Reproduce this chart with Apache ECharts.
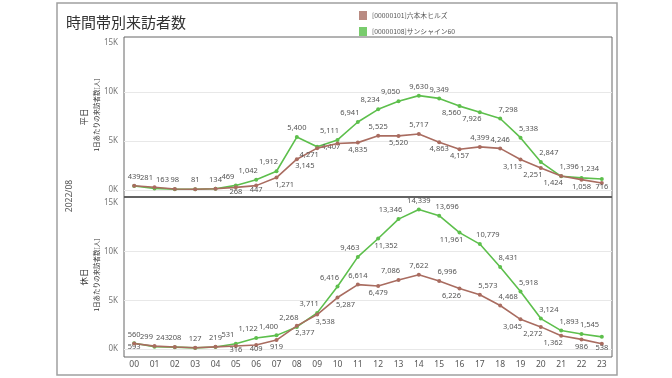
<!DOCTYPE html>
<html><head><meta charset="utf-8">
<script src="https://cdn.jsdelivr.net/npm/echarts@6/dist/echarts.min.js"></script>
<style>html,body{margin:0;padding:0;background:#fff}#c{width:672px;height:378px}</style>
</head><body><div id="c"></div>
<script>
const hours = ['00','01','02','03','04','05','06','07','08','09','10','11','12','13','14','15','16','17','18','19','20','21','22','23'];
const seriesNames = ['[00000101]六本木ヒルズ', '[00000108]サンシャイン60'];
const yTicks = [0, 5000, 10000, 15000];
const rowLabels = ['平日', '休日'];
// weekday
const wdRoppongi = [439, 281, 98, 81, 134, 268, 447, 1271, 3145, 4271, 4750, 4835, 5525, 5520, 5717, 4863, 4157, 4399, 4246, 3113, 2251, 1424, 1058, 716];
const wdSunshine = [400, 163, 85, 70, 120, 469, 1042, 1912, 5400, 4407, 5111, 6941, 8234, 9050, 9630, 9349, 8560, 7926, 7298, 5338, 2847, 1396, 1234, 1130];
// holiday
const hdRoppongi = [560, 299, 208, 127, 219, 316, 409, 919, 2377, 3538, 5287, 6614, 6479, 7086, 7622, 6996, 6226, 5573, 4468, 3045, 2272, 1362, 986, 538];
const hdSunshine = [593, 243, 190, 115, 200, 531, 1122, 1400, 2268, 3711, 6416, 9463, 11352, 13346, 14339, 13696, 11961, 10779, 8431, 5918, 3124, 1893, 1545, 1250];

// label placement styling (not data); '^' = nudged up
const placeWdR = 't tl t t t b^ b^ br br bl n b t b t b b t t bl bl bl b b^'.split(' ');
const placeWdS = 'n tr n n n tl tl tl t r tl tl tl tl t t bl bl tr tr tr tr tr n'.split(' ');
const placeHdR = 't tl t t t b^ b^ b br br br t b tl t tr bl tr tr bl bl bl b b^'.split(' ');
const placeHdS = 'b^ tr n n n tl tl tl tl tl tl tl br tl t tr bl tr tr tr tr tr tr n'.split(' ');

const BROWN = '#a96c60', GREEN = '#5dbf4c';
function lbl(code){
  if(code==='n') return {show:false};
  const o = {show:true};
  let dx = 0, dy = 0;
  if(code[0]==='t') o.position='top';
  else if(code[0]==='b') {o.position='bottom'; o.distance=1;}
  else if(code==='r') {o.position='right'; o.distance=2; return o;}
  else if(code==='l') {o.position='left'; return o;}
  if(code.includes('l') && code!=='l') dx = -8;
  if(code.includes('r') && code!=='r') dx = 8;
  if(code.includes('^')) dy = -3;
  if(dx||dy) o.offset=[dx,dy];
  return o;
}
function mk(vals, codes){ return vals.map((v,i)=>({value:v, label:lbl(codes[i])})); }
function ser(name, color, vals, codes, idx, z){
  return {name, type:'line', xAxisIndex:idx, yAxisIndex:idx, data:mk(vals,codes), z,
    symbol:'circle', symbolSize:4, lineStyle:{color, width:1.6}, itemStyle:{color},
    label:{distance:3, fontSize:7.5, color:'#555', fontFamily:'Noto Sans', formatter:p=>p.value.toLocaleString('en-US')},
    emphasis:{disabled:true}, animation:false};
}
const chart = echarts.init(document.getElementById('c'), null, {renderer:'canvas'});
const yAx = (gi)=>({type:'value', gridIndex:gi, min:0, max:15000, interval:5000,
  axisLabel:{fontSize:8, color:'#777', margin:6, fontFamily:'Noto Sans', formatter:v=>(v/1000)+'K'},
  splitLine:{show:true, showMaxLine:false, lineStyle:{color:'#e8e8e8', width:1}}, axisLine:{show:false}, axisTick:{show:false}});
const xAx = (gi, show)=>({type:'category', gridIndex:gi, data:hours, boundaryGap:true,
  axisLine:{show:false}, axisTick:{show:false},
  axisLabel:{show, fontSize:8.5, color:'#555', margin:11, fontFamily:'Noto Sans'}});
chart.setOption({
  animation:false,
  title:{text:'時間帯別来訪者数', left:61, top:10, textStyle:{fontSize:15, fontWeight:'normal', color:'#333', fontFamily:'Noto Sans CJK JP'}},
  legend:{orient:'vertical', left:354, top:6, itemWidth:8, itemHeight:9, itemGap:7, icon:'rect',
    textStyle:{fontSize:6.8, color:'#555', fontFamily:'Noto Sans CJK JP'},
    data:[{name:seriesNames[0], itemStyle:{color:'#b98b82'}},{name:seriesNames[1], itemStyle:{color:'#79cc6d'}}]},
  grid:[{left:124, width:488, top:43, height:147},{left:124, width:488, top:203, height:146}],
  xAxis:[xAx(0,false), xAx(1,true)],
  yAxis:[yAx(0), yAx(1)],
  series:[
    ser(seriesNames[1], GREEN, wdSunshine, placeWdS, 0, 2),
    ser(seriesNames[0], BROWN, wdRoppongi, placeWdR, 0, 3),
    ser(seriesNames[1], GREEN, hdSunshine, placeHdS, 1, 2),
    ser(seriesNames[0], BROWN, hdRoppongi, placeHdR, 1, 3)
  ],
  graphic:[
    {type:'rect', shape:{x:57, y:3, width:560, height:372}, style:{fill:'none', stroke:'#a0a0a0', lineWidth:1.5}, z:-1, silent:true},
    {type:'rect', shape:{x:124, y:37, width:488, height:160}, style:{fill:'none', stroke:'#666', lineWidth:1}, silent:true},
    {type:'rect', shape:{x:124, y:197, width:488, height:160}, style:{fill:'none', stroke:'#666', lineWidth:1}, silent:true},
    {type:'line', shape:{x1:124, y1:197, x2:612, y2:197}, style:{stroke:'#555', lineWidth:1.5}, silent:true},
    {type:'text', x:84, y:117, rotation:Math.PI/2, style:{text:rowLabels[0], fontSize:8.5, fill:'#333', fontFamily:'Noto Sans CJK JP', align:'center', verticalAlign:'middle'}, silent:true},
    {type:'text', x:97, y:115, rotation:Math.PI/2, style:{text:'1日あたりの来訪者数[人]', fontSize:6.5, fill:'#333', fontFamily:'Noto Sans CJK JP', align:'center', verticalAlign:'middle'}, silent:true},
    {type:'text', x:84, y:277, rotation:Math.PI/2, style:{text:rowLabels[1], fontSize:8.5, fill:'#333', fontFamily:'Noto Sans CJK JP', align:'center', verticalAlign:'middle'}, silent:true},
    {type:'text', x:97, y:275, rotation:Math.PI/2, style:{text:'1日あたりの来訪者数[人]', fontSize:6.5, fill:'#333', fontFamily:'Noto Sans CJK JP', align:'center', verticalAlign:'middle'}, silent:true},
    {type:'text', x:70, y:196, rotation:Math.PI/2, style:{text:'2022/08', fontSize:8.5, fill:'#555', fontFamily:'Noto Sans', align:'center', verticalAlign:'middle'}, silent:true}
  ]
});
</script></body></html>
